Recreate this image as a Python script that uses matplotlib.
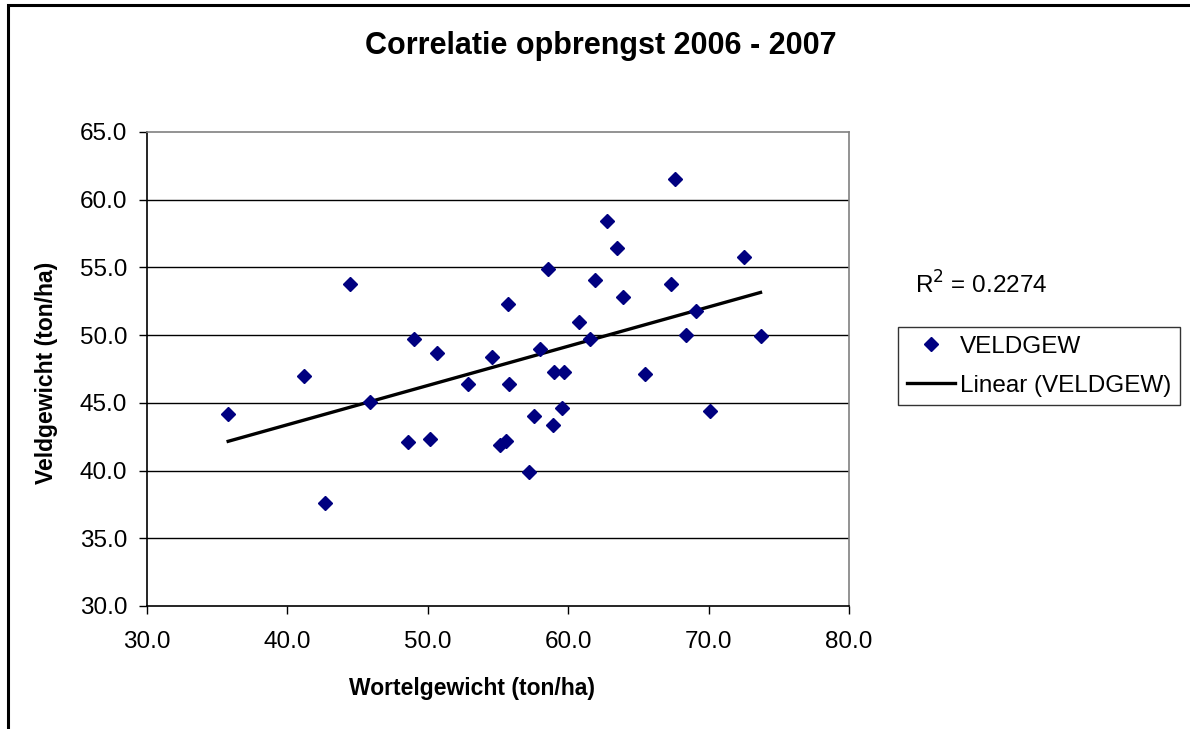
import numpy as np
import matplotlib
matplotlib.use("Agg")
import matplotlib.pyplot as plt
from matplotlib.patches import Rectangle

plt.rcParams["font.family"] = ["Liberation Sans", "DejaVu Sans"]

# Data
wortelgewicht = [35.8, 41.2, 42.7, 44.5, 45.9, 48.6, 49.0, 50.2, 50.7, 52.9,
                 54.6, 55.7, 55.8, 55.15, 55.6, 57.2, 57.6, 58.0, 58.6, 58.9,
                 59.0, 59.7, 59.6, 60.8, 61.55, 61.9, 62.8, 63.45, 63.9, 65.5,
                 67.3, 67.6, 68.4, 69.1, 70.1, 72.5, 73.7]
veldgewicht = [44.2, 47.0, 37.6, 53.8, 45.1, 42.1, 49.7, 42.3, 48.7, 46.4,
               48.4, 52.3, 46.4, 41.9, 42.2, 39.9, 44.0, 49.0, 54.9, 43.4,
               47.3, 47.3, 44.6, 51.0, 49.7, 54.05, 58.4, 56.4, 52.8, 47.1,
               53.8, 61.55, 50.0, 51.75, 44.4, 55.8, 49.9]
x_ticks = [30, 40, 50, 60, 70, 80]
y_ticks = [30, 35, 40, 45, 50, 55, 60, 65]
r2_text = "R$^2$ = 0.2274"

x = np.array(wortelgewicht)
y = np.array(veldgewicht)
slope, intercept = np.polyfit(x, y, 1)
xl = np.array([x.min(), x.max()])

fig = plt.figure(figsize=(11.9, 7.29), dpi=100)
ax = fig.add_axes([146.7 / 1190, 1 - 606 / 729, (849 - 146.7) / 1190, (606 - 132) / 729])

# Outer chart border
fig.patches.append(Rectangle((8 / 1190, -0.05), 1.1, 1 - 5 / 729 + 0.05,
                             transform=fig.transFigure, fill=False,
                             edgecolor="black", linewidth=2.2))

for v in y_ticks[1:-1]:
    ax.axhline(v, color="black", linewidth=1.0, zorder=1)

pts, = ax.plot(x, y, linestyle="none", marker="D", markersize=7,
               color="#000080", label="VELDGEW", zorder=3)
trend, = ax.plot(xl, slope * xl + intercept, color="black", linewidth=2.4,
                 label="Linear (VELDGEW)", zorder=2)

ax.set_xlim(30, 80)
ax.set_ylim(30, 65)
ax.set_xticks(x_ticks)
ax.set_yticks(y_ticks)
ax.set_xticklabels([f"{t:.1f}" for t in x_ticks], fontsize=17.5)
ax.set_yticklabels([f"{t:.1f}" for t in y_ticks], fontsize=17.5)
ax.tick_params(direction="out", length=6, width=1, colors="black")
ax.tick_params(axis="x", pad=12)
ax.tick_params(axis="y", pad=8)

ax.spines["left"].set_color("black")
ax.spines["bottom"].set_color("black")
ax.spines["top"].set_color("#808080")
ax.spines["right"].set_color("#808080")
for s in ax.spines.values():
    s.set_linewidth(1.2)

fig.text(601 / 1190, 1 - 46 / 729, "Correlatie opbrengst 2006 - 2007",
         fontsize=22, fontweight="bold", ha="center", va="center")

ax.set_xlabel("Wortelgewicht (ton/ha)", fontsize=16.5, fontweight="bold", va="center")
ax.xaxis.set_label_coords((472 - 146.7) / 702.3, -(688 - 606) / 474)
ax.set_ylabel("Veldgewicht (ton/ha)", fontsize=16.5, fontweight="bold", va="center")
ax.yaxis.set_label_coords((47 - 146.7) / 702.3, (606 - 373) / 474)

fig.text(915 / 1190, 1 - 285 / 729, r2_text, fontsize=17.5, va="center", ha="left")

leg = fig.legend(handles=[pts, trend], loc="upper left",
                 bbox_to_anchor=(898 / 1190, 1 - 327 / 729),
                 fontsize=17.5, frameon=True, fancybox=False,
                 edgecolor="black", borderpad=0.35, handlelength=2.0,
                 handletextpad=0.2, borderaxespad=0, labelspacing=0.7)
leg.get_frame().set_linewidth(1.0)

fig.savefig("out.png", dpi=100)
